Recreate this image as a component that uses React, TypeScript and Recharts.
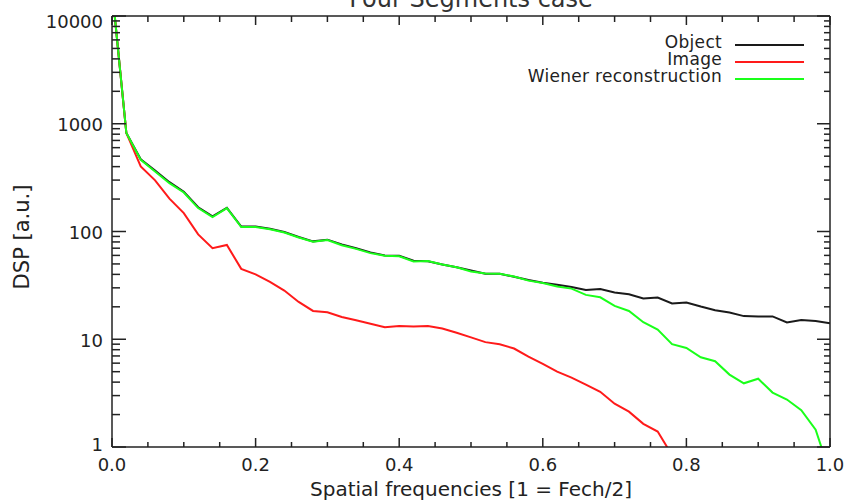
import { Legend, Line, LineChart, XAxis, YAxis } from "recharts";

// spatial frequency, 1 = Fech/2
const freq = [
  0, 0.02, 0.04, 0.06, 0.08, 0.1, 0.12, 0.14, 0.16, 0.18, 0.2, 0.22, 0.24, 0.26, 0.28, 0.3, 0.32,
  0.34, 0.36, 0.38, 0.4, 0.42, 0.44, 0.46, 0.48, 0.5, 0.52, 0.54, 0.56, 0.58, 0.6, 0.62, 0.64, 0.66,
  0.68, 0.7, 0.72, 0.74, 0.76, 0.78, 0.8, 0.82, 0.84, 0.86, 0.88, 0.9, 0.92, 0.94, 0.96, 0.98, 1.0
];

const objectDsp = [
  18000, 820, 468, 367, 287, 234, 168, 138, 166, 111, 111, 106, 99, 89, 81, 84, 76, 70, 64, 60,
  59.5, 53.5, 53, 49.5, 46.5, 43.4, 40.5, 40.5, 38, 35.4, 33.5, 32, 30.5, 28.6, 29.2, 27.2, 26.2,
  23.9, 24.4, 21.5, 21.9, 20.1, 18.6, 17.7, 16.4, 16.3, 16.3, 14.3, 15.1, 14.8, 14.1
];

const imageDsp = [
  18000, 820, 402, 298, 202, 148, 94, 70, 75, 45, 40, 34, 28.3, 22.2, 18.3, 17.8, 16.1, 15, 13.9,
  12.9, 13.3, 13.1, 13.3, 12.6, 11.5, 10.4, 9.4, 9.0, 8.2, 6.9, 5.9, 5.0, 4.4, 3.8, 3.25, 2.52,
  2.13, 1.64, 1.39, 0.84, null, null, null, null, null, null, null, null, null, null, null
];

const wienerDsp = [
  18000, 820, 463, 361, 281, 230, 165, 136, 165, 110, 110, 105, 98, 88, 80.5, 83.5, 74.5, 69, 63,
  59.5, 59, 52.8, 53.3, 49.5, 46.5, 42.6, 40.8, 40.5, 38.2, 35, 33.2, 30.9, 29.5, 25.8, 24.5, 20.4,
  18.3, 14.4, 12.3, 9.0, 8.3, 6.8, 6.25, 4.7, 3.9, 4.3, 3.2, 2.76, 2.2, 1.45, 0.57
];

const xMajorTicks = [0, 0.2, 0.4, 0.6, 0.8, 1.0];
const xAllTicks = [
  0, 0.05, 0.1, 0.15, 0.2, 0.25, 0.3, 0.35, 0.4, 0.45, 0.5, 0.55, 0.6, 0.65, 0.7, 0.75, 0.8, 0.85,
  0.9, 0.95, 1.0
];
const yMajorTicks = [1, 10, 100, 1000, 10000];
const yAllTicks = [
  1, 2, 3, 4, 5, 6, 7, 8, 9, 10, 20, 30, 40, 50, 60, 70, 80, 90, 100, 200, 300, 400, 500, 600, 700,
  800, 900, 1000, 2000, 3000, 4000, 5000, 6000, 7000, 8000, 9000, 10000
];

const series = [
  { key: "object", name: "Object", color: "#1a1a1a" },
  { key: "image", name: "Image", color: "#ff1a1a" },
  { key: "wiener", name: "Wiener reconstruction", color: "#1aff1a" }
];

const rows = freq.map((f, i) => ({
  f,
  object: objectDsp[i],
  image: imageDsp[i],
  wiener: wienerDsp[i]
}));

const INK = "#222";
const FONT = "'DejaVu Sans', sans-serif";

function BottomTick(props: any) {
  const { x, y, payload } = props;
  const major = xMajorTicks.includes(payload.value);
  return (
    <g>
      <line x1={x} y1={y} x2={x} y2={y - (major ? 9 : 5)} stroke={INK} strokeWidth={1.5} />
      {major ? (
        <text x={x} y={y + 24} textAnchor="middle" fontSize={18} fill={INK}>
          {payload.value.toFixed(1)}
        </text>
      ) : null}
    </g>
  );
}

function TopTick(props: any) {
  const { x, y, payload } = props;
  const major = xMajorTicks.includes(payload.value);
  return <line x1={x} y1={y} x2={x} y2={y + (major ? 9 : 6)} stroke={INK} strokeWidth={1.5} />;
}

function LeftTick(props: any) {
  const { x, y, payload } = props;
  const major = yMajorTicks.includes(payload.value);
  // the end labels sit a little inside the frame, as in the original plot
  const shift = payload.value === 10000 ? 4 : payload.value === 1 ? -4 : 0;
  return (
    <g>
      <line x1={x} y1={y} x2={x + (major ? 14 : 8)} y2={y} stroke={INK} strokeWidth={1.5} />
      {major ? (
        <text x={x - 9} y={y + 7.5 + shift} textAnchor="end" fontSize={18} fill={INK}>
          {payload.value}
        </text>
      ) : null}
    </g>
  );
}

function RightTick(props: any) {
  const { x, y, payload } = props;
  const major = yMajorTicks.includes(payload.value);
  return <line x1={x} y1={y} x2={x - (major ? 13 : 6)} y2={y} stroke={INK} strokeWidth={1.5} />;
}

function LegendBox() {
  return (
    <div>
      {series.map((s) => (
        <div key={s.key} style={{ display: "flex", alignItems: "center", height: 17 }}>
          <span
            style={{
              width: 230,
              textAlign: "right",
              fontSize: 17,
              lineHeight: "17px",
              color: INK,
              position: "relative",
              top: -2,
              letterSpacing: 0.3
            }}
          >
            {s.name}
          </span>
          <span style={{ marginLeft: 13, width: 69, height: 2, background: s.color }} />
        </div>
      ))}
    </div>
  );
}

export default function App() {
  const axisLine = { stroke: INK, strokeWidth: 1.5 };
  return (
    <div
      style={{
        position: "absolute",
        left: 0,
        top: 0,
        width: 850,
        height: 501,
        background: "#fff",
        fontFamily: FONT,
        overflow: "hidden"
      }}
    >
      <LineChart width={850} height={501} data={rows} margin={{ top: 16, right: 20, bottom: 0, left: 0 }}>
        <text x={471} y={7} textAnchor="middle" fontSize={24} fill="#333">
          Four Segments case
        </text>
        <XAxis
          xAxisId="x"
          dataKey="f"
          type="number"
          domain={[0, 1]}
          allowDataOverflow
          ticks={xAllTicks}
          interval={0}
          tick={<BottomTick />}
          tickLine={false}
          tickSize={0}
          tickMargin={0}
          axisLine={axisLine}
          height={54}
          label={{
            value: "Spatial frequencies [1 = Fech/2]",
            position: "insideBottom",
            offset: 5,
            fontSize: 20,
            fill: INK
          }}
        />
        <XAxis
          xAxisId="top"
          dataKey="f"
          orientation="top"
          mirror
          type="number"
          domain={[0, 1]}
          allowDataOverflow
          ticks={xAllTicks}
          interval={0}
          tick={<TopTick />}
          tickLine={false}
          tickSize={0}
          tickMargin={0}
          axisLine={axisLine}
        />
        <YAxis
          yAxisId="y"
          type="number"
          scale="log"
          domain={[1, 10000]}
          allowDataOverflow
          ticks={yAllTicks}
          interval={0}
          tick={<LeftTick />}
          tickLine={false}
          tickSize={0}
          tickMargin={0}
          axisLine={axisLine}
          width={112}
          label={{
            content: (p: any) => {
              const vb = p.viewBox || { x: 0 };
              const cx = vb.x + 22;
              const cy = 237;
              return (
                <text
                  x={cx}
                  y={cy}
                  transform={`rotate(-90 ${cx} ${cy})`}
                  textAnchor="middle"
                  dominantBaseline="central"
                  fontSize={21}
                  fill={INK}
                >
                  DSP [a.u.]
                </text>
              );
            }
          }}
        />
        <YAxis
          yAxisId="right"
          orientation="right"
          mirror
          type="number"
          scale="log"
          domain={[1, 10000]}
          allowDataOverflow
          ticks={yAllTicks}
          interval={0}
          tick={<RightTick />}
          tickLine={false}
          tickSize={0}
          tickMargin={0}
          axisLine={axisLine}
        />
        <Legend
          layout="horizontal"
          verticalAlign="middle"
          align="center"
          wrapperStyle={{ top: 36, left: 492, width: 320 }}
          content={() => <LegendBox />}
        />
        {series.map((s) => (
          <Line
            key={s.key}
            xAxisId="x"
            yAxisId="y"
            dataKey={s.key}
            name={s.name}
            stroke={s.color}
            strokeWidth={2}
            dot={false}
            activeDot={false}
            type="linear"
            isAnimationActive={false}
          />
        ))}
      </LineChart>
    </div>
  );
}
